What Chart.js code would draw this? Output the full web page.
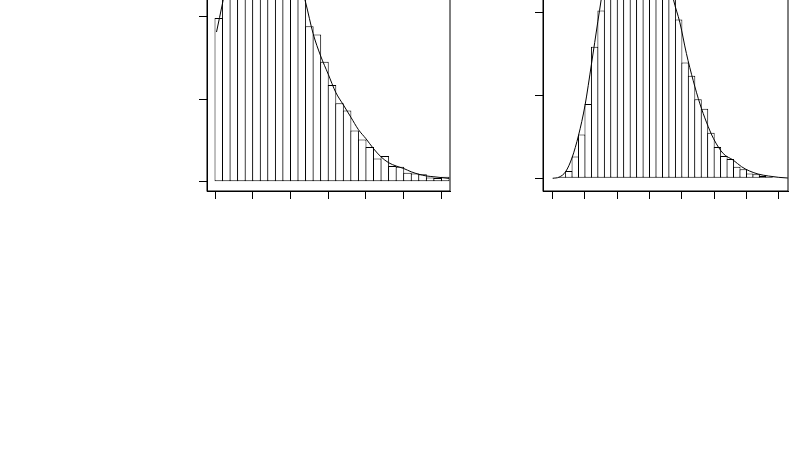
<!DOCTYPE html>
<html><head><meta charset="utf-8">
<script src="https://cdn.jsdelivr.net/npm/chart.js@4.4.1/dist/chart.umd.min.js"></script>
<style>
html,body{margin:0;padding:0;background:#fff;width:800px;height:450px;overflow:hidden;position:relative;}
canvas{position:absolute;}
</style></head><body>
<canvas id="left" width="255" height="317" style="left:197px;top:-116px"></canvas>
<canvas id="right" width="257" height="337" style="left:533px;top:-136px"></canvas>
<script>
// ---- Left panel data (bin lower edges, densities) ----
const leftBinEdges = [0,1,2,3,4,5,6,7,8,9,10,11,12,13,14,15,16,17,18,19,20,21,22,23,24,25,26,27,28,29,30];
const leftHeights = [1.98,2.45,2.78,3.00,3.20,3.28,3.30,3.22,3.10,2.90,2.65,2.32,1.88,1.78,1.45,1.17,0.95,0.86,0.62,0.51,0.42,0.28,0.31,0.19,0.18,0.11,0.10,0.09,0.05,0.044,0.06];
const leftCurveX = [0.2,1,2,3,4,5,6,7,8,9,10,11,12,13,14,15,16,17,18,19,20,21,22,23,24,25,26,27,28,29,30,31];
const leftCurveY = [1.81,2.16,2.62,2.93,3.14,3.26,3.30,3.26,3.15,2.98,2.76,2.50,2.17,1.79,1.52,1.30,1.08,0.93,0.78,0.63,0.52,0.40,0.30,0.23,0.19,0.16,0.12,0.09,0.07,0.06,0.05,0.04];
const leftXTicks = [0,5,10,15,20,25,30];
const leftYTicks = [0,1,2];

// ---- Right panel data ----
const rightBinEdges = [0,1,2,3,4,5,6,7,8,9,10,11,12,13,14,15,16,17,18,19,20,21,22,23,24,25,26,27,28,29,30,31,32,33,34];
const rightHeights = [0.005,0.02,0.09,0.265,0.53,0.90,1.59,2.03,2.45,2.85,3.20,3.45,3.60,3.55,3.50,3.30,3.00,2.65,2.30,1.92,1.40,1.24,0.955,0.84,0.55,0.38,0.27,0.235,0.14,0.11,0.06,0.05,0.03,0.02,0.01];
const rightCurveX = [0,1,2,3,4,5,6,7,8,9,10,11,12,13,14,15,16,17,18,18.67,19.7,20.7,21.76,22.8,23.8,24.9,26.4,27.96,29.25,30.5,31.8,33.4,35,36.4];
const rightCurveY = [0,0.015,0.08,0.25,0.52,0.88,1.38,1.90,2.40,2.82,3.15,3.40,3.55,3.60,3.55,3.40,3.15,2.82,2.45,2.17,1.88,1.51,1.18,0.90,0.68,0.48,0.30,0.22,0.14,0.088,0.052,0.028,0.012,0.004];
const rightXTicks = [0,5,10,15,20,25,30,35];
const rightYTicks = [0,1,2];

const framePlugin = {
  id: 'frame',
  afterDatasetsDraw(chart) {
    const a = chart.chartArea, c = chart.ctx;
    c.save();
    c.strokeStyle = '#000';
    c.lineWidth = 1;
    c.strokeRect(a.left, a.top, a.right - a.left, a.bottom - a.top);
    c.restore();
  }
};

function makeHist(id, edges, heights, cx, cy, xTicks, yTicks, xr, yr, barPct) {
  const axisCommon = {
    type: 'linear',
    offset: false,
    ticks: { display: false },
    grid: { display: true, drawOnChartArea: false, drawTicks: true, tickLength: 8, color: '#000', lineWidth: 1, offset: false },
    border: { display: true, color: '#000', width: 1 }
  };
  new Chart(document.getElementById(id), {
    type: 'bar',
    data: {
      datasets: [
        {
          type: 'line',
          data: cx.map((x, i) => ({ x: x, y: cy[i] })),
          borderColor: '#000', borderWidth: 1, pointRadius: 0,
          cubicInterpolationMode: 'monotone', fill: false, order: 1
        },
        {
          type: 'bar',
          data: edges.map((e, i) => ({ x: e + 0.5, y: heights[i] })),
          backgroundColor: '#fff', borderColor: '#000', borderWidth: 1,
          borderSkipped: false, inflateAmount: 0,
          barPercentage: barPct, categoryPercentage: 1, order: 2
        }
      ]
    },
    options: {
      responsive: false, animation: false,
      layout: { padding: { left: 0, top: 0, right: 2, bottom: 0 } },
      plugins: { legend: { display: false }, tooltip: { enabled: false } },
      scales: {
        x: Object.assign({}, axisCommon, {
          min: xr[0], max: xr[1],
          afterBuildTicks: s => { s.ticks = xTicks.map(v => ({ value: v })); },
          afterFit: s => { s.height = 10; }
        }),
        y: Object.assign({}, axisCommon, {
          min: yr[0], max: yr[1],
          afterBuildTicks: s => { s.ticks = yTicks.map(v => ({ value: v })); },
          afterFit: s => { s.width = 10; }
        })
      }
    },
    plugins: [framePlugin]
  });
}

makeHist('left', leftBinEdges, leftHeights, leftCurveX, leftCurveY, leftXTicks, leftYTicks, [-1.06, 31.13], [-0.112, 3.6], 1.13);
makeHist('right', rightBinEdges, rightHeights, rightCurveX, rightCurveY, rightXTicks, rightYTicks, [-1.50, 36.43], [-0.153, 3.8], 1.155);
</script>
</body></html>
